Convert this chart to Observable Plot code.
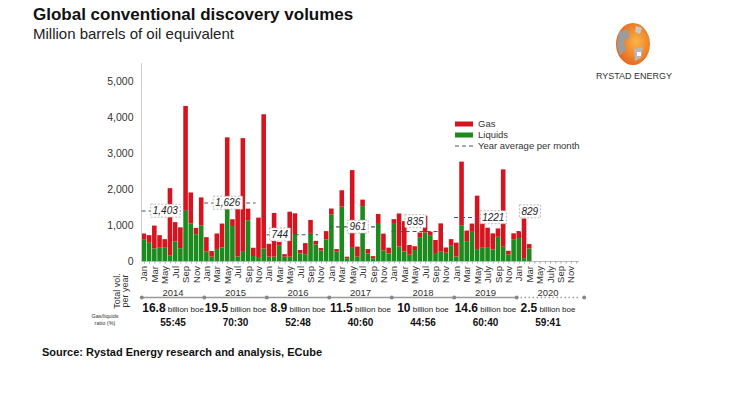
<!DOCTYPE html>
<html><head><meta charset="utf-8">
<script src="https://cdn.jsdelivr.net/npm/d3@7"></script>
<script src="https://cdn.jsdelivr.net/npm/@observablehq/plot@0.6"></script>
<style>
body{margin:0;background:#fff;}
#page{position:relative;width:750px;height:396px;overflow:hidden;font-family:"Liberation Sans",Arial,sans-serif;}
#header{height:44px;}
#title{padding:5px 0 0 33px;font-size:17px;font-weight:bold;line-height:20px;color:#111;}
#subtitle{padding-left:33px;font-size:15px;line-height:17px;color:#222;}
#chart{height:300px;}
#chart svg{display:block;}
#source{padding-left:42px;font-size:11px;font-weight:bold;line-height:16px;color:#111;}
#logo{position:absolute;left:590px;top:20px;}
</style></head>
<body><div id="page">
<div id="header"><div id="title">Global conventional discovery volumes</div><div id="subtitle">Million barrels of oil equivalent</div></div>
<div id="chart"></div>
<div id="source">Source: Rystad Energy research and analysis, ECube</div>
<svg id="logo" width="90" height="64" viewBox="0 0 90 64">
  <defs><radialGradient id="lg" cx="0.6" cy="0.45" r="0.65"><stop offset="0" stop-color="#fcb447"/><stop offset="1" stop-color="#e2601a"/></radialGradient></defs>
  <ellipse cx="43" cy="24" rx="17" ry="21" fill="url(#lg)"/>
  <path d="M29 12 L37 9 L40 17 L34 21 L36 30 L30 35 L27 26 Z" fill="#9c9c9c"/>
  <path d="M44 29 L53 27 L51 38 L45 41 Z" fill="#b8b8b8"/>
  <rect x="47" y="32" width="4" height="4" fill="#fff"/>
  <path d="M46 6 L52 8 L50 14 L45 12 Z" fill="#c9c9c9"/>
  <text x="44" y="58.5" text-anchor="middle" font-size="9" fill="#333" font-family="'Liberation Sans',Arial,sans-serif">RYSTAD ENERGY</text>
</svg>
</div>
<script>
// ---------- data ----------
const years = [2014, 2015, 2016, 2017, 2018, 2019, 2020];
const monthAbbrA = ["Jan", "Mar", "May", "Jul", "Sep", "Nov"];
const monthAbbrB = ["Jan", "Mar", "May", "July", "Sep", "Nov"];
const seriesNames = ["Liquids", "Gas"];
// monthly volumes, Jan 2014 .. Mar 2020 (million boe)
const liquids = [
  590, 506, 350, 368, 368, 147, 540, 355, 1408, 1040, 745, 994,
  258, 120, 331, 377, 1440, 970, 125, 276, 1132, 138, 110, 350,
  120, 120, 440, 120, 120, 750, 212, 190, 780, 460, 290, 600,
  1300, 258, 1510, 74, 365, 120, 1525, 212, 74, 1030, 290, 212,
  1055, 400, 262, 175, 304, 662, 791, 718, 221, 258, 230, 423,
  125, 994, 552, 810, 331, 368, 386, 322, 672, 396, 184, 607,
  640, 80, 350
];
const gas = [
  174, 212, 634, 350, 239, 1877, 540, 580, 2897, 864, 175, 772,
  404, 156, 433, 663, 1995, 190, 1385, 3137, 322, 230, 1095, 3726,
  357, 1215, 90, 70, 1249, 575, 93, 307, 360, 100, 70, 230,
  158, 73, 455, 46, 2160, 280, 180, 119, 61, 276, 470, 158,
  108, 920, 846, 271, 106, 129, 466, 96, 363, 787, 145, 184,
  385, 1766, 294, 230, 1484, 982, 539, 446, 233, 2149, 101, 163,
  175, 1100, 120
];
const yearAvg = [1403, 1626, 744, 961, 835, 1221, 829];
const yearAvgLabel = ["1,403", "1,626", "744", "961", "835", "1221", "829"];
const totalVol = ["16.8", "19.5", "8.9", "11.5", "10", "14.6", "2.5"];
const gasLiquidsRatio = ["55:45", "70:30", "52:48", "40:60", "44:56", "60:40", "59:41"];
const yTicks = [0, 1000, 2000, 3000, 4000, 5000];

// ---------- layout / style ----------
const RED = "#d6141f", GREEN = "#1c8a1c";
const FONT = "'Liberation Sans',Arial,sans-serif";
const W = 750, H = 300, ML = 141, MR = 171, MT = 19, MB = 83;

const months = years.flatMap(y => d3.range(1, 13).map(m => `${y}-${String(m).padStart(2, "0")}`));
const step = (W - ML - MR) / months.length;
const dataMonths = months.slice(0, liquids.length);

const rows = [];
dataMonths.forEach((m, i) => {
  rows.push({month: m, type: seriesNames[0], value: liquids[i]});
  rows.push({month: m, type: seriesNames[1], value: gas[i]});
});

const avgLabelMonth = ["2014-05", "2015-05", "2016-03", "2017-06", "2018-05", "2019-08", "2020-03"];
const avgLabelLift = {2018: -10, 2020: -20};
const avgRows = years.map((y, i) => ({
  year: y, x1: `${y}-01`, x2: y === 2020 ? `${y}-02` : `${y}-10`,
  value: yearAvg[i], label: yearAvgLabel[i], lx: avgLabelMonth[i], lift: avgLabelLift[y] || 0
}));

const yearRows = years.map((y, i) => ({
  year: y, start: `${y}-01`, end: `${y}-12`, mid: `${y}-07`, total: totalVol[i], ratio: gasLiquidsRatio[i]
}));

const monthTick = k => {
  const [y, m] = k.split("-").map(Number);
  if ((m - 1) % 2) return "";
  return (y >= 2019 ? monthAbbrB : monthAbbrA)[(m - 1) / 2];
};

const zero = () => 0;
const tag = name => () => name;

const chart = Plot.plot({
  width: W, height: H, marginLeft: ML, marginRight: MR, marginTop: MT, marginBottom: MB,
  style: {fontFamily: FONT, fontSize: "10px", color: "#333", background: "transparent", overflow: "visible"},
  x: {type: "band", domain: months, padding: 0.12, round: false, axis: null},
  y: {domain: [0, 5500], axis: null},
  color: {domain: seriesNames, range: [GREEN, RED]},
  marks: [
    Plot.barY(rows, {x: "month", y: "value", fill: "type", order: seriesNames}),
    Plot.ruleY([0], {stroke: "#bbb"}),
    Plot.frame({anchor: "left", stroke: "#ccc"}),
    Plot.axisY({ticks: yTicks, tickSize: 0, tickPadding: 8, tickFormat: d3.format(","), fontSize: 10.5, fill: "#333", label: null}),
    Plot.axisX({ticks: months, tickSize: 2.5, tickPadding: 2, tickRotate: -90, tickFormat: monthTick, fontSize: 9.5, stroke: "#aaa", fill: "#333", label: null}),
    Plot.ruleY(avgRows, {x1: "x1", x2: "x2", y: "value", stroke: "#555", strokeWidth: 1.1, strokeDasharray: "4,3"}),
    ...[0, -10, -20].map(l => Plot.text(avgRows.filter(d => d.lift === l), {
      x: "lx", y: "value", dy: l, text: "label", fontStyle: "italic", fontSize: 10, fill: "#222", ariaLabel: tag("avg-label")
    })),
    // year timeline below the axis
    Plot.ruleY(yearRows.filter(d => d.year < 2020), {x1: "start", x2: "end", y: zero, dy: 36, stroke: "#999", strokeWidth: 1.4}),
    Plot.ruleY(yearRows.filter(d => d.year === 2020), {x1: "start", x2: "end", y: zero, dy: 36, stroke: "#999", strokeWidth: 1.4, strokeDasharray: "1.5,2.5"}),
    Plot.dot(yearRows, {x: "start", y: zero, dx: -step / 2, dy: 36, r: 2, fill: "#888", stroke: null}),
    Plot.dot(yearRows.filter(d => d.year === 2020), {x: "end", y: zero, dx: step / 2 + 5, dy: 36, r: 2, fill: "#888", stroke: null}),
    Plot.text(yearRows, {x: "mid", y: zero, dx: -step / 2, dy: 31, text: d => String(d.year), fontSize: 9.5, fill: "#333"}),
    Plot.text(yearRows, {x: "mid", y: zero, dx: -step / 2, dy: 47, text: d => `${d.total} billion boe`, fill: "#111", ariaLabel: tag("totals")}),
    Plot.text(yearRows, {x: "mid", y: zero, dx: -step / 2, dy: 61, text: "ratio", fontWeight: "bold", fontSize: 10, fill: "#111"})
  ]
});
document.getElementById("chart").appendChild(chart);

const svg = d3.select(chart);
const SVGNS = "http://www.w3.org/2000/svg";
const textsTagged = name => {
  const out = [];
  chart.querySelectorAll(`[aria-label="${name}"]`).forEach(el => {
    if (el.tagName.toLowerCase() === "text") out.push(el);
    else el.querySelectorAll("text").forEach(t => out.push(t));
  });
  return out;
};

// boxes behind the year-average labels
textsTagged("avg-label").forEach(el => {
  const b = el.getBBox();
  const r = document.createElementNS(SVGNS, "rect");
  r.setAttribute("x", b.x - 2);
  r.setAttribute("y", b.y - 1);
  r.setAttribute("width", b.width + 4);
  r.setAttribute("height", b.height + 2);
  const t = el.getAttribute("transform");
  if (t) r.setAttribute("transform", t);
  r.setAttribute("fill", "#fff");
  r.setAttribute("stroke", "#aaa");
  r.setAttribute("stroke-width", "0.8");
  r.setAttribute("stroke-dasharray", "2,1.5");
  el.parentNode.insertBefore(r, el);
});

// bold totals + small unit
textsTagged("totals").forEach(el => {
  const s = el.textContent;
  const i = s.indexOf(" ");
  const sel = d3.select(el);
  sel.text(null);
  sel.append("tspan").attr("font-weight", "bold").attr("font-size", 12).text(s.slice(0, i));
  sel.append("tspan").attr("font-size", 8).attr("fill", "#222").text(s.slice(i));
});

// legend
const lg = svg.append("g").attr("font-family", FONT).attr("font-size", 9.5).attr("fill", "#333").attr("text-anchor", "start");
lg.append("rect").attr("x", 455).attr("y", 77.5).attr("width", 18).attr("height", 5).attr("fill", RED);
lg.append("text").attr("x", 478).attr("y", 80).attr("dy", "0.35em").text("Gas");
lg.append("rect").attr("x", 455).attr("y", 88.5).attr("width", 18).attr("height", 5).attr("fill", GREEN);
lg.append("text").attr("x", 478).attr("y", 91).attr("dy", "0.35em").text("Liquids");
lg.append("line").attr("x1", 455).attr("x2", 473).attr("y1", 102).attr("y2", 102)
  .attr("stroke", "#555").attr("stroke-width", 1.1).attr("stroke-dasharray", "4,3");
lg.append("text").attr("x", 478).attr("y", 102).attr("dy", "0.35em").text("Year average per month");

// row headers at left of the timeline
const lh = svg.append("g").attr("font-family", FONT).attr("fill", "#333");
lh.append("text").attr("transform", "translate(117,247) rotate(-90)").attr("text-anchor", "middle")
  .attr("dy", "0.35em").attr("font-size", 9).text("Total vol.");
lh.append("text").attr("transform", "translate(125,247) rotate(-90)").attr("text-anchor", "middle")
  .attr("dy", "0.35em").attr("font-size", 9).text("per year");
lh.append("text").attr("x", 105).attr("y", 274).attr("text-anchor", "middle").attr("font-size", 5.5).text("Gas/liquids");
lh.append("text").attr("x", 105).attr("y", 281).attr("text-anchor", "middle").attr("font-size", 5.5).text("ratio (%)");
</script>
</body></html>
